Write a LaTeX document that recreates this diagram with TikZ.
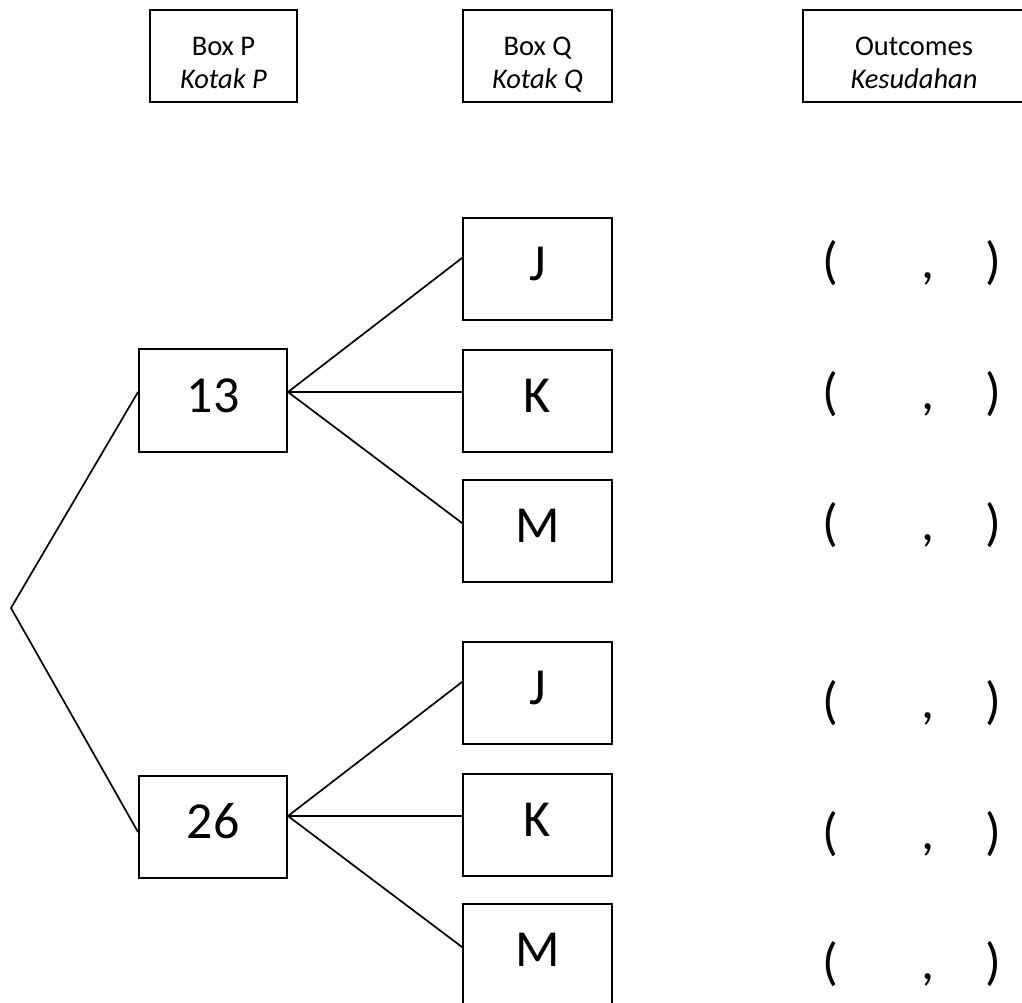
\documentclass[tikz,border=0pt]{standalone}
\usepackage{fontspec}
\setmainfont{Carlito}
\begin{document}
\begin{tikzpicture}[x=1pt,y=-1pt,
  bx/.style={draw, line width=2pt, minimum width=149pt, minimum height=102pt, inner sep=0pt,
    font=\fontsize{52}{60}\selectfont, text height=34pt, text depth=11pt},
  hbox/.style={draw, line width=2pt, minimum height=92pt, inner sep=0pt},
  htxt/.style={anchor=base, inner sep=0pt, font=\fontsize{28.5}{34}\selectfont},
  otxt/.style={anchor=base, inner sep=0pt, font=\fontsize{52}{60}\selectfont},
  ln/.style={line width=1.7pt}]
\useasboundingbox (0,0) rectangle (1022,1002);
% headers
\node[hbox, minimum width=147pt] (hP) at (223.5,56) {};
\node[hbox, minimum width=149pt] (hQ) at (537.5,56) {};
\node[hbox, minimum width=221pt] (hO) at (913.5,56) {};
\node[htxt] (hP1) at (223.5,55) {Box P};
\node[htxt] (hP2) at (223.5,88) {\itshape Kotak P};
\node[htxt] (hQ1) at (537.5,55) {Box Q};
\node[htxt] (hQ2) at (537.5,88) {\itshape Kotak Q};
\node[htxt] (hO1) at (914,55) {Outcomes};
\node[htxt] (hO2) at (914,88) {\itshape Kesudahan};
% tree
\coordinate (root) at (11,608);
\node[bx, minimum width=148pt, minimum height=103pt] (p13) at (213,400.5) {13};
\node[bx, minimum width=148pt] (p26) at (213,827) {26};
\node[bx] (j1) at (537.5,269) {J};
\node[bx] (k1) at (537.5,400.5) {K};
\node[bx] (m1) at (537.5,531) {M};
\node[bx] (j2) at (537.5,693) {J};
\node[bx] (k2) at (537.5,825) {K};
\node[bx] (m2) at (537.5,955) {M};
\draw[ln] ([yshift=8.5pt]p13.west) -- (root) -- ([yshift=-5pt]p26.west);
\draw[ln] ([yshift=11pt]j1.west) -- ([yshift=8.5pt]p13.east) -- ([yshift=8.5pt]k1.west);
\draw[ln] ([yshift=8.5pt]p13.east) -- ([yshift=8pt]m1.west);
\draw[ln] ([yshift=11pt]j2.west) -- ([yshift=11pt]p26.east) -- ([yshift=9pt]k2.west);
\draw[ln] ([yshift=11pt]p26.east) -- ([yshift=8pt]m2.west);
% outcomes
\foreach \r/\y in {1/278,2/409,3/540,4/718,5/849,6/979}{
  \node[otxt] (ol\r) at (830,\y) {(};
  \node[otxt] (oc\r) at (928,\y) {,};
  \node[otxt] (or\r) at (993,\y) {)};
}
\end{tikzpicture}
\end{document}
